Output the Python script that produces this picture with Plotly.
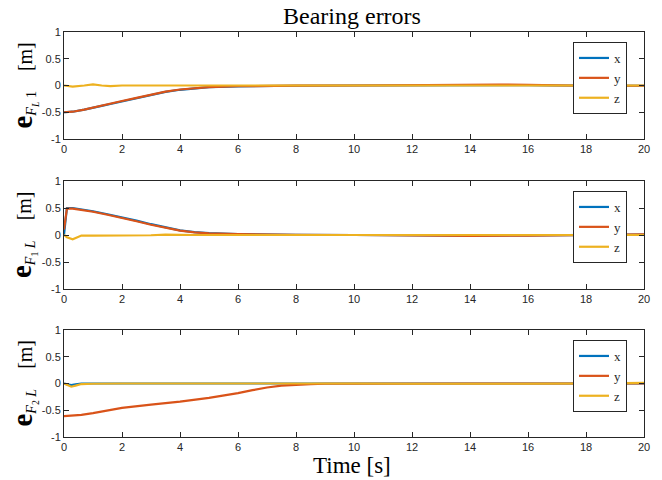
import plotly.graph_objects as go

# ---- data ----
t1 = [0, 0.3, 0.7, 1, 1.3, 1.6, 2, 2.5, 3, 3.5, 4, 4.5, 5, 6, 7, 8, 10, 12, 13, 14, 15, 16, 17, 18, 20]
p1_x = [-0.50, -0.49, -0.45, -0.41, -0.38, -0.345, -0.30, -0.235, -0.175, -0.12, -0.08, -0.05, -0.032, -0.016, -0.008, -0.005, 0.0, 0.005, 0.01, 0.012, 0.01, 0.005, 0.0, -0.005, -0.005]
p1_y = [-0.50, -0.49, -0.45, -0.41, -0.375, -0.34, -0.29, -0.23, -0.17, -0.115, -0.075, -0.046, -0.03, -0.014, -0.007, -0.004, 0.0, 0.01, 0.018, 0.02, 0.018, 0.01, 0.0, -0.005, -0.005]
p1_z = [0.0, -0.02, 0.0, 0.02, 0.0, -0.01, 0.0, 0.0, 0.0, 0.0, 0.0, 0.0, 0.0, 0.0, 0.0, 0.0, 0.0, 0.0, 0.0, 0.0, 0.0, 0.0, 0.0, 0.0, 0.0]

t2 = [0, 0.1, 0.3, 0.6, 1, 1.5, 2, 2.5, 3, 3.5, 4, 4.5, 5, 6, 7, 8, 10, 12, 14, 16, 18, 20]
p2_x = [0.0, 0.50, 0.50, 0.475, 0.44, 0.385, 0.33, 0.265, 0.20, 0.14, 0.085, 0.053, 0.033, 0.016, 0.008, 0.004, 0.0, -0.008, -0.012, -0.008, 0.0, 0.008]
p2_y = [0.1, 0.49, 0.49, 0.465, 0.43, 0.375, 0.32, 0.255, 0.19, 0.13, 0.08, 0.05, 0.03, 0.015, 0.007, 0.003, 0.0, -0.01, -0.015, -0.01, 0.0, 0.01]
p2_z = [0.0, -0.04, -0.08, -0.01, -0.01, -0.01, -0.01, -0.01, -0.005, 0.008, 0.0, 0.0, 0.0, 0.0, 0.0, 0.0, -0.005, -0.01, -0.01, -0.008, 0.0, 0.0]

t3 = [0, 0.15, 0.25, 0.4, 0.6, 1, 1.5, 2, 3, 4, 5, 5.5, 6, 6.5, 7, 7.5, 8, 8.5, 9, 10, 12, 14, 16, 18, 20]
p3_x = [0.0, -0.02, -0.03, -0.015, 0.0, 0.0, 0.0, 0.0, 0.0, 0.0, 0.0, 0.0, 0.0, 0.0, 0.0, 0.0, 0.0, 0.0, 0.0, 0.0, 0.0, 0.0, 0.0, 0.0, 0.0]
p3_y = [-0.61, -0.605, -0.60, -0.595, -0.585, -0.555, -0.51, -0.455, -0.395, -0.34, -0.27, -0.23, -0.18, -0.125, -0.075, -0.04, -0.02, -0.01, -0.005, -0.002, 0.0, 0.0, 0.0, 0.0, 0.0]
p3_z = [0.0, -0.04, -0.06, -0.04, -0.01, -0.005, 0.0, 0.0, 0.0, 0.0, 0.0, 0.0, 0.005, 0.01, 0.012, 0.008, 0.0, 0.0, 0.0, 0.0, -0.005, -0.01, -0.005, 0.0, 0.01]

series_names = ["x", "y", "z"]
colors = ["#0072BD", "#D95319", "#EDB120"]
x_ticks = list(range(0, 21, 2))
y_ticks = [-1, -0.5, 0, 0.5, 1]
y_tick_text = ["-1", "-0.5", "0", "0.5", "1"]
y_labels = [
    '<span style="font-size:29px"><b>e</b></span><sub><i>F<sub>L</sub></i> 1</sub>    [m]',
    '<span style="font-size:29px"><b>e</b></span><sub><i>F</i><sub>1</sub> <i>L</i></sub>    [m]',
    '<span style="font-size:29px"><b>e</b></span><sub><i>F</i><sub>2</sub> <i>L</i></sub>    [m]',
]
title_text = "Bearing errors"
xlabel_text = "Time [s]"

panels = [(t1, [p1_x, p1_y, p1_z]), (t2, [p2_x, p2_y, p2_z]), (t3, [p3_x, p3_y, p3_z])]

W, H = 662, 480
x_left, x_right = 64, 644
panel_px = [(32, 139), (181, 289), (330, 437)]

fig = go.Figure()
serif = "Liberation Serif, Times New Roman, serif"
sans = "Liberation Sans, Arial, sans-serif"
axcol = "#262626"

for i, (t, ys) in enumerate(panels):
    k = "" if i == 0 else str(i + 1)
    leg = "legend" if i == 0 else "legend" + str(i + 1)
    for j, y in enumerate(ys):
        fig.add_trace(go.Scatter(
            x=t, y=y, mode="lines", name=series_names[j],
            line=dict(color=colors[j], width=2.2),
            xaxis="x" + k, yaxis="y" + k, legend=leg,
        ))
    top, bot = panel_px[i]
    fig.layout["xaxis" + k] = dict(
        domain=[x_left / W, x_right / W], anchor="y" + k, range=[0, 20],
        tickvals=x_ticks, ticks="inside", ticklen=5, tickcolor=axcol,
        showline=True, linecolor=axcol, linewidth=1, mirror="ticks",
        showgrid=False, zeroline=False, automargin=False,
        tickfont=dict(family=sans, size=11, color=axcol),
    )
    fig.layout["yaxis" + k] = dict(
        domain=[1 - bot / H, 1 - top / H], anchor="x" + k, range=[-1, 1],
        tickvals=y_ticks, ticktext=y_tick_text, ticks="inside", ticklen=5, tickcolor=axcol,
        showline=True, linecolor=axcol, linewidth=1, mirror="ticks",
        showgrid=False, zeroline=False, automargin=False,
        tickfont=dict(family=sans, size=11, color=axcol),
    )
    fig.layout[leg] = dict(
        x=627 / W, xanchor="right", y=1 - (top + 10) / H, yanchor="top",
        bgcolor="white", bordercolor=axcol, borderwidth=1,
        font=dict(family=serif, size=13, color=axcol),
        tracegroupgap=0, itemwidth=30,
    )
    fig.add_annotation(
        x=23 / W, y=1 - (top + bot) / 2 / H, xref="paper", yref="paper",
        xanchor="center", yanchor="middle",
        text=y_labels[i], textangle=-90, showarrow=False,
        font=dict(family=serif, size=20, color="black"),
    )

fig.add_annotation(x=352 / W, y=1 - 16 / H, xref="paper", yref="paper",
                   xanchor="center", yanchor="middle",
                   text=title_text, showarrow=False,
                   font=dict(family=serif, size=24, color="black"))
fig.add_annotation(x=352 / W, y=1 - 465 / H, xref="paper", yref="paper",
                   xanchor="center", yanchor="middle",
                   text=xlabel_text, showarrow=False,
                   font=dict(family=serif, size=23, color="black"))

fig.update_layout(
    width=W, height=H, margin=dict(l=0, r=0, t=0, b=0, autoexpand=False),
    paper_bgcolor="white", plot_bgcolor="white", showlegend=True,
)

fig.write_html("out.html", config={"displayModeBar": False},
               post_script="document.body.style.margin='0px';")
